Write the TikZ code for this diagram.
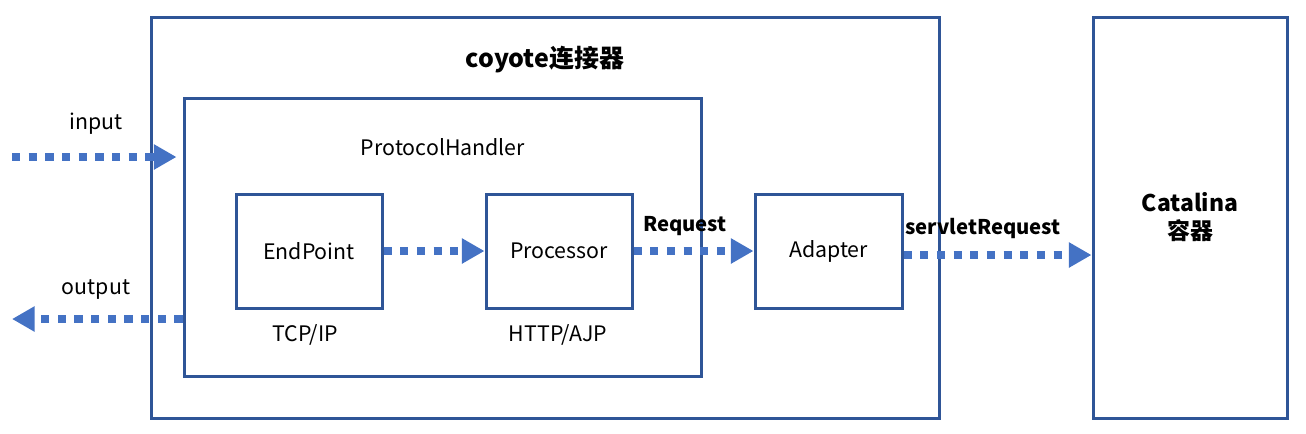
\documentclass[tikz,border=0pt]{standalone}
\usepackage{fontspec}
\setmainfont{Noto Sans CJK SC}
\usetikzlibrary{arrows.meta, positioning}
\definecolor{BoxBlue}{RGB}{47, 85, 151}
\definecolor{FlowBlue}{RGB}{68, 114, 196}
\begin{document}
\begin{tikzpicture}[x=0.75pt, y=-0.75pt,
  box/.style={draw=BoxBlue, line width=2.25pt, minimum height=85.5pt, minimum width=109.5pt, inner sep=0pt, font=\fontsize{16}{19}\selectfont},
  big/.style={box, minimum height=300.75pt},
  lab/.style={font=\fontsize{16}{19}\selectfont, inner sep=0pt},
  blab/.style={lab, font=\fontsize{15.2}{18}\selectfont\bfseries},
  flow/.style={-{Triangle[length=17pt, width=18pt]}, FlowBlue, line width=6pt, dash pattern=on 6.2pt off 6.3pt}]
\useasboundingbox (0, 0) rectangle (1306, 433);
% containers
\node[big, minimum width=591pt] (coyote) at (545, 217.5) {};
\node[big, minimum width=145.5pt, align=center, font=\fontsize{17.2}{21}\selectfont\bfseries] (catalina) at (1190, 217.5) {Catalina\\容器};
\node[box, minimum width=387.75pt, minimum height=208.5pt] (proto) at (442.5, 237) {};
\node[blab, font=\fontsize{18.7}{22}\selectfont\bfseries] (title) at (545, 60) {coyote连接器};
\node[lab] (protolab) at (443, 147) {ProtocolHandler};
% components
\node[box] (endpoint) at (309, 251) {EndPoint};
\node[box] (processor) at (559, 251) {Processor};
\node[box, minimum width=110.25pt] (adapter) at (828.5, 251) {Adapter};
\node[lab] (tcp) at (305, 335) {TCP/IP};
\node[lab] (http) at (558, 335) {HTTP/AJP};
% outside ends
\coordinate (inL) at (12, 157);
\coordinate (outL) at (12, 319);
\node[lab] (inlab) at (96, 124) {input};
\node[lab] (outlab) at (96, 290) {output};
\node[blab] (reqlab) at (685, 226) {Request};
\node[blab] (srvlab) at (983, 228) {servletRequest};
% flows
\draw[flow] (inL) -- (inL -| proto.west) [shorten >=4.5pt];
\draw[flow] (outL -| proto.west) -- (outL);
\draw[flow] (endpoint) -- (processor);
\draw[flow] (processor) -- (adapter);
\draw[flow] ([yshift=-3pt]adapter.east) -- ([yshift=-3pt]adapter.east -| catalina.west);
\end{tikzpicture}
\end{document}
